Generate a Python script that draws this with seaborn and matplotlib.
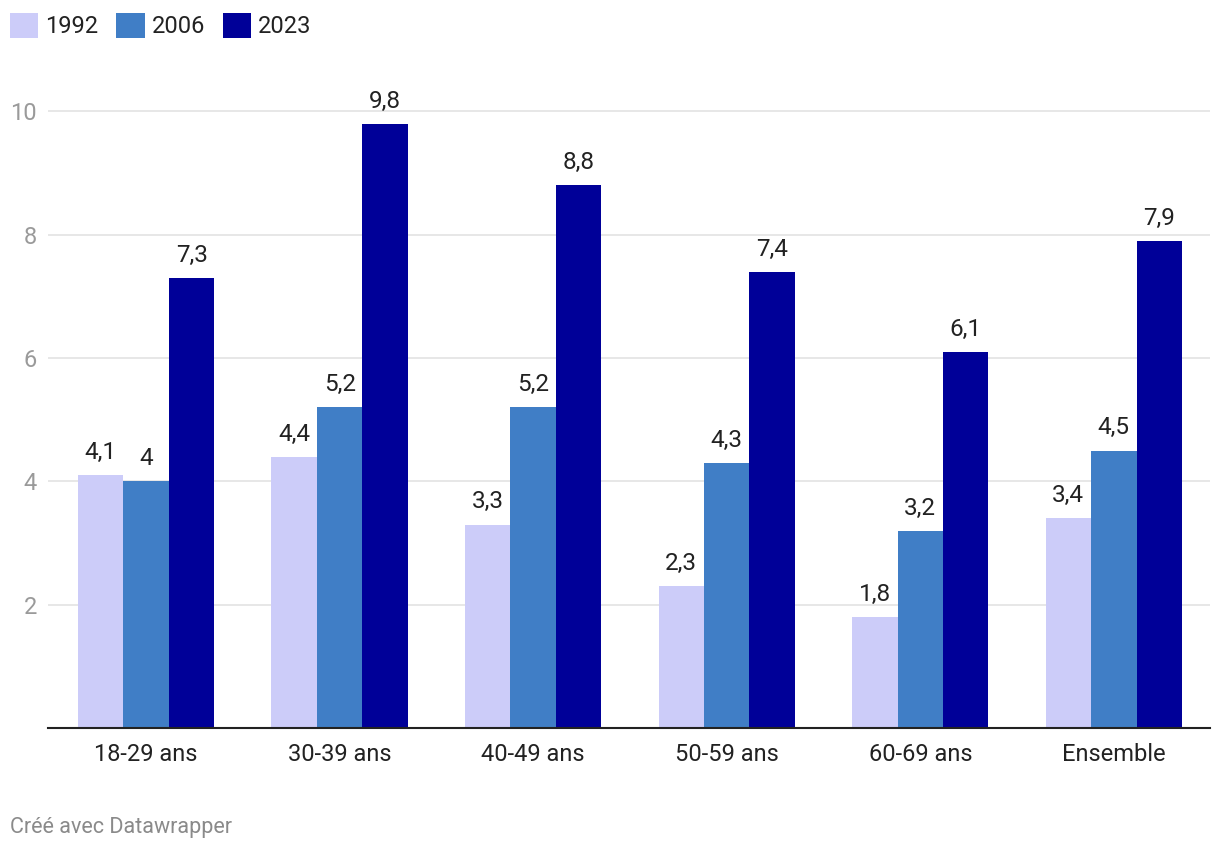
import pandas as pd
import numpy as np
import matplotlib.pyplot as plt
import seaborn as sns
from matplotlib.patches import Patch

# data
categories = ['18-29 ans', '30-39 ans', '40-49 ans', '50-59 ans', '60-69 ans', 'Ensemble']
years = ['1992', '2006', '2023']
v1992 = [4.1, 4.4, 3.3, 2.3, 1.8, 3.4]
v2006 = [4.0, 5.2, 5.2, 4.3, 3.2, 4.5]
v2023 = [7.3, 9.8, 8.8, 7.4, 6.1, 7.9]
colors = ['#ccccf9', '#407ec6', '#000098']

df = pd.DataFrame({
    'age': categories * 3,
    'year': ['1992'] * 6 + ['2006'] * 6 + ['2023'] * 6,
    'value': v1992 + v2006 + v2023,
})

sns.set_style('white')
plt.rcParams['font.family'] = ['Roboto', 'DejaVu Sans']

fig = plt.figure(figsize=(12.2, 8.5), dpi=100)
ax = fig.add_axes([48 / 1220, 0.1435, 1162 / 1220, 0.74])

sns.barplot(data=df, x='age', y='value', hue='year', order=categories,
            hue_order=years, palette=colors, width=0.705, saturation=1,
            legend=False, ax=ax, errorbar=None, linewidth=0, edgecolor='none')

def fmt(v):
    s = f'{v:.1f}'.replace('.', ',')
    return s[:-2] if s.endswith(',0') else s

for cont in ax.containers:
    ax.bar_label(cont, labels=[fmt(b.get_height()) for b in cont],
                 padding=8, fontsize=17.5, color='#222222')

ax.set_xlim(-0.507, 5.497)
ax.set_ylim(0, 10.2)
ax.set_yticks([2, 4, 6, 8, 10])
ax.yaxis.grid(True, color='#e3e3e3', linewidth=1.2)
ax.set_axisbelow(True)
ax.set_xlabel('')
ax.set_ylabel('')
for s in ['top', 'right', 'left']:
    ax.spines[s].set_visible(False)
ax.spines['bottom'].set_color('#222222')
ax.spines['bottom'].set_linewidth(1.5)
ax.tick_params(axis='y', length=0, pad=8, labelsize=17, labelcolor='#9a9a9a')
ax.tick_params(axis='x', length=0, pad=11, labelsize=17, labelcolor='#222222')

handles = [Patch(facecolor=c, edgecolor='none') for c in colors]
fig.legend(handles, years, loc='upper left', bbox_to_anchor=(10 / 1220, 1 - 13 / 850),
           ncol=3, frameon=False, fontsize=17, handlelength=1.2,
           handleheight=1.25, handletextpad=0.3, columnspacing=0.75,
           borderaxespad=0, borderpad=0, labelcolor='#222222')

fig.text(0.008, 0.027, 'Créé avec Datawrapper', fontsize=15.5, color='#8a8a8a',
         va='center', ha='left')

fig.savefig('out.png', dpi=100)
